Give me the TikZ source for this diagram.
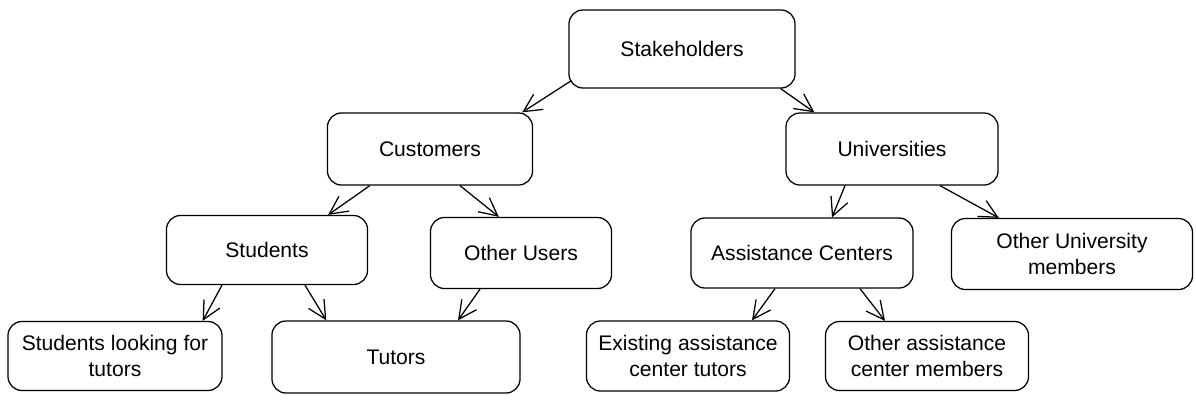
\documentclass[tikz,border=0pt]{standalone}
\usepackage{fontspec}
\setmainfont{Liberation Sans}
\usepackage{tikz}
\usetikzlibrary{arrows.meta}
\usetikzlibrary{positioning}

\begin{document}
\begin{tikzpicture}[x=0.025cm, y=-0.025cm,
		box/.style={
			draw,
			rectangle,
			rounded corners=3.5mm,
			line width=0.9pt,
			align=center,
			inner sep=2pt,
			font=\fontsize{15}{18}\selectfont
		},
		link/.style={
			line width=0.9pt,
			-{Straight Barb[length=4.5mm, width=4.5mm]}
		}]
		\useasboundingbox (0,0) rectangle (1196,403);
		
		\node[box, minimum width=5.65cm, minimum height=1.95cm] (stake) at (682,49) {Stakeholders};
		
		\node[box, minimum width=5.125cm, minimum height=1.8cm] (cust) at (430,149) {Customers};
		\node[box, minimum width=5.3cm, minimum height=1.8cm] (univ) at (892,149) {Universities};
		
		\node[box, minimum width=5.025cm, minimum height=1.725cm] (stud) at (267,250) {Students};
		\node[box, minimum width=4.525cm, minimum height=1.775cm] (otherusers) at (521,253) {Other Users};
		\node[box, minimum width=5.55cm, minimum height=1.75cm] (assist) at (802,253) {Assistance Centers};
		\node[box, minimum width=6.025cm, minimum height=1.775cm] (unimembers) at (1072,254) {Other University\\members};
		
		\node[box, minimum width=5.35cm, minimum height=1.725cm] (seek) at (115,356) {Students looking for\\tutors};
		\node[box, minimum width=6.2cm, minimum height=1.8cm] (tutors) at (396,357) {Tutors};
		\node[box, minimum width=5.075cm, minimum height=1.75cm] (exist) at (688,356) {Existing assistance\\center tutors};
		\node[box, minimum width=5.075cm, minimum height=1.725cm] (acmembers) at (927,356) {Other assistance\\center members};
		
		\draw[link] ([shift={(3,-8)}]stake.south west) -- ([shift={(-11,0)}]cust.north east);
		\draw[link] ([shift={(-15,0)}]stake.south east) -- ([shift={(29,0)}]univ.north west);
		
		\draw[link] ([shift={(43,0)}]cust.south west) -- ([shift={(-40,0)}]stud.north east);
		\draw[link] ([shift={(30,0)}]cust.south) -- ([shift={(69,0)}]otherusers.north west);
		\draw[link] ([shift={(-47,0)}]univ.south) -- ([shift={(30,0)}]assist.north);
		\draw[link] ([shift={(48,0)}]univ.south) -- ([shift={(48,0)}]unimembers.north west);
		
		\draw[link] ([shift={(-45,0)}]stud.south) -- ([shift={(-20,0)}]seek.north east);
		\draw[link] ([shift={(38,0)}]stud.south) -- ([shift={(55,0)}]tutors.north west);
		\draw[link] ([shift={(-41,0)}]otherusers.south) -- ([shift={(62,0)}]tutors.north);
		\draw[link] ([shift={(-27,0)}]assist.south) -- ([shift={(64,0)}]exist.north);
		\draw[link] ([shift={(58,0)}]assist.south) -- ([shift={(-42,0)}]acmembers.north);
	\end{tikzpicture}
\end{document}
